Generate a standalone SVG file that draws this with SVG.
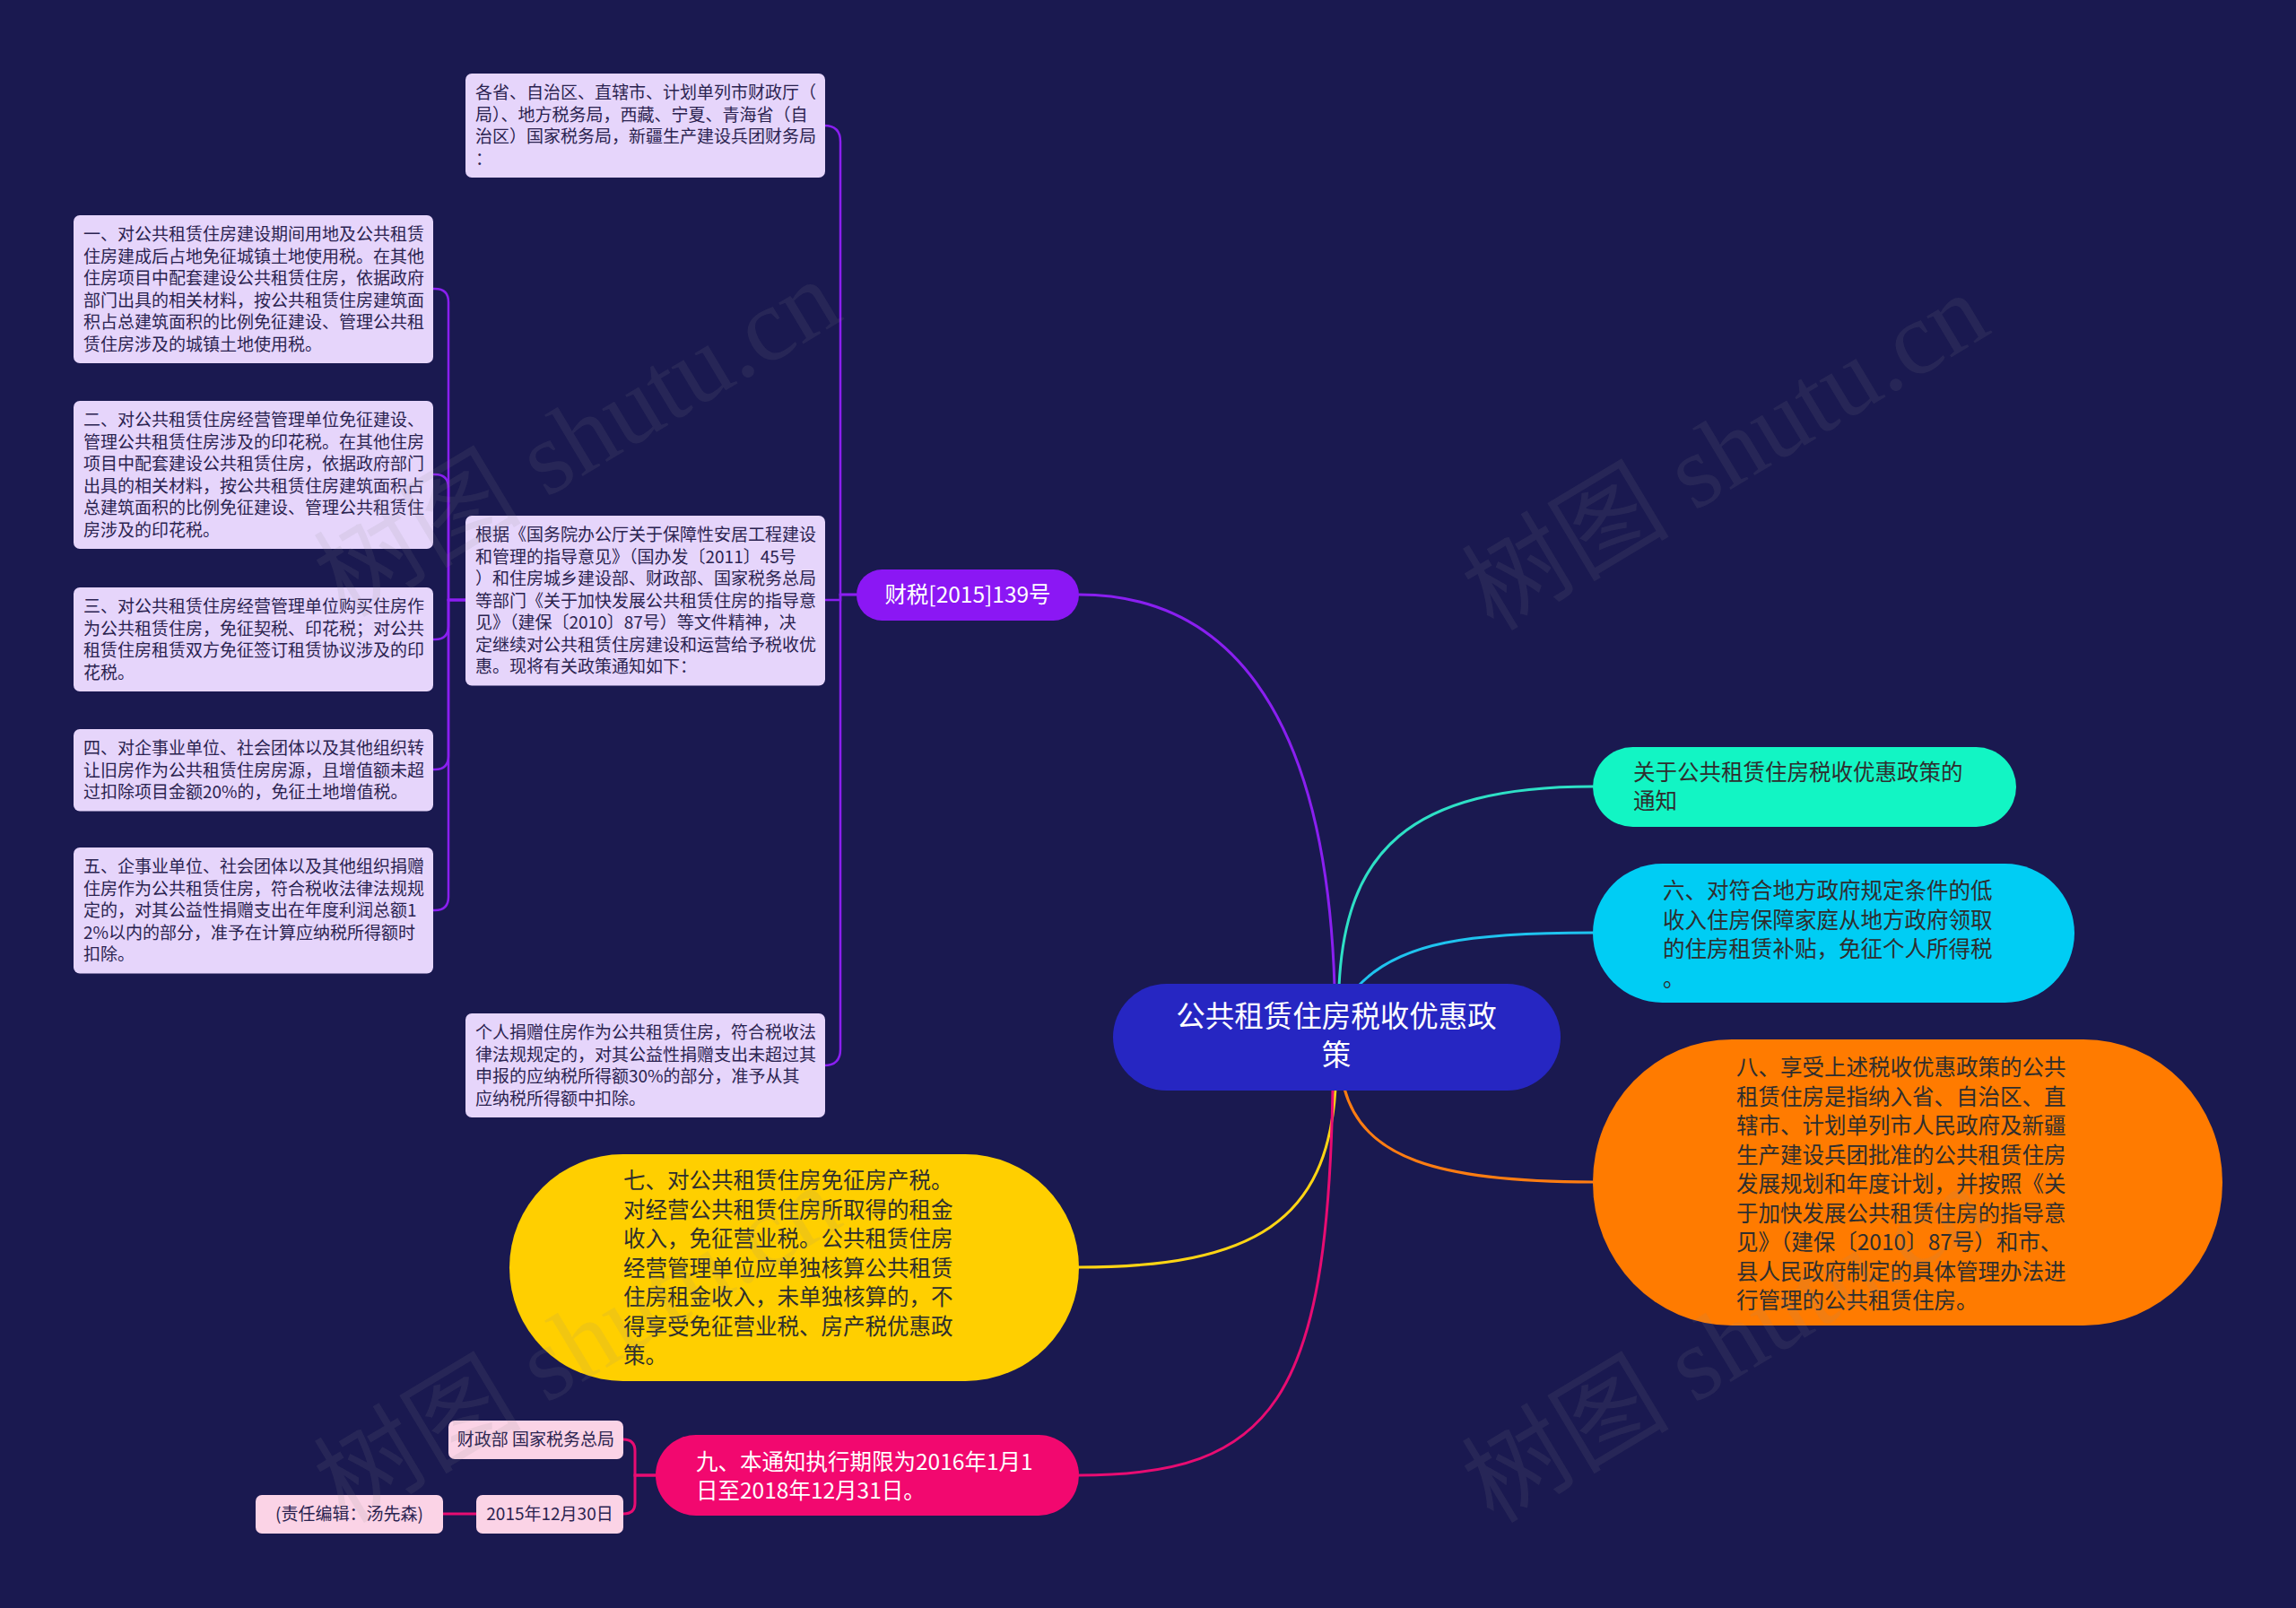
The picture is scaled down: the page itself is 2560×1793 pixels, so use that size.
<svg xmlns="http://www.w3.org/2000/svg" width="2560" height="1793" viewBox="0 0 2560 1793">
<style>
.bg{fill:#1a1950}
.bx{fill:#e6d5fb}
.pb{fill:#fbd3e6}
.t{font-family:"Noto Sans CJK SC","Noto Sans",sans-serif}
.s{font-size:19px;fill:#2b2350}
.m{font-size:24.5px;fill:#2e2e2e}
.w{fill:#ffffff}
.c{fill:none;stroke-width:3;stroke-linecap:round}
.b{fill:none;stroke-width:2.5;stroke-linecap:round}
.wm{font-family:"Liberation Serif","Noto Sans CJK SC",serif;font-size:116px;fill:#8a8a8a;fill-opacity:0.12}
</style>
<rect class="bg" x="0" y="0" width="2560" height="1793"/>
<g id="connectors">
<path class="c" stroke="#8a1ff0" d="M1488 1100 C1478 780 1360 663 1203 663"/>
<path class="c" stroke="#2ee0c6" d="M1493 1100 C1500 950 1570 877 1776 877"/>
<path class="c" stroke="#1fc3ef" d="M1514 1100 C1560 1050 1640 1040 1776 1040"/>
<path class="c" stroke="#ff7d12" d="M1499 1214 C1520 1290 1600 1318 1776 1318"/>
<path class="c" stroke="#ffd514" d="M1489 1214 C1480 1360 1400 1413 1203 1413"/>
<path class="c" stroke="#e80c72" d="M1486 1214 C1480 1560 1420 1645 1203 1645"/>
<path class="b" stroke="#8a1ff0" d="M955 663 H937 V158 Q937 140 919 140"/>
<path class="b" stroke="#8a1ff0" d="M955 663 H937 V669 H919"/>
<path class="b" stroke="#8a1ff0" d="M955 663 H937 V1170 Q937 1188 919 1188"/>
<path class="b" stroke="#8a1ff0" d="M519 669 H500 V337 Q500 322 485 322 H483"/>
<path class="b" stroke="#8a1ff0" d="M519 669 H500 V544 Q500 529 485 529 H483"/>
<path class="b" stroke="#8a1ff0" d="M519 669 H500 V698 Q500 713 485 713 H483"/>
<path class="b" stroke="#8a1ff0" d="M519 669 H500 V843 Q500 858 485 858 H483"/>
<path class="b" stroke="#8a1ff0" d="M519 669 H500 V1000 Q500 1015 485 1015 H483"/>
<path class="c" stroke="#e80c72" d="M731 1645 H708 V1618 Q708 1605 695 1605"/>
<path class="c" stroke="#e80c72" d="M731 1645 H708 V1676 Q708 1688 695 1688"/>
<path class="c" stroke="#e80c72" d="M531 1688 H494"/>
</g>
<g id="root">
<rect x="1241" y="1097" width="499" height="119" rx="59.5" fill="#2626c2"/>
<text class="t w" font-size="32.5" text-anchor="middle"><tspan x="1490" y="1145">公共租赁住房税收优惠政</tspan><tspan x="1490" y="1188">策</tspan></text>
</g>
<g id="n-caishui">
<rect x="955" y="635" width="248" height="57" rx="28.5" fill="#8b17f4"/>
<text class="t w" font-size="24.5" x="1079" y="672" text-anchor="middle">财税[2015]139号</text>
</g>
<g id="n-top">
<rect class="bx" x="519" y="82" width="401" height="116" rx="7"/>
<text class="t s"><tspan x="530" y="110">各省、自治区、直辖市、计划单列市财政厅（</tspan><tspan x="530" dy="24.5">局）、地方税务局，西藏、宁夏、青海省（自</tspan><tspan x="530" dy="24.5">治区）国家税务局，新疆生产建设兵团财务局</tspan><tspan x="530" dy="24.5">：</tspan></text>
</g>
<g id="n-basis">
<rect class="bx" x="519" y="575" width="401" height="189.5" rx="7"/>
<text class="t s"><tspan x="530" y="603">根据《国务院办公厅关于保障性安居工程建设</tspan><tspan x="530" dy="24.5">和管理的指导意见》（国办发〔2011〕45号</tspan><tspan x="530" dy="24.5">）和住房城乡建设部、财政部、国家税务总局</tspan><tspan x="530" dy="24.5">等部门《关于加快发展公共租赁住房的指导意</tspan><tspan x="530" dy="24.5">见》（建保〔2010〕87号）等文件精神，决</tspan><tspan x="530" dy="24.5">定继续对公共租赁住房建设和运营给予税收优</tspan><tspan x="530" dy="24.5">惠。现将有关政策通知如下：</tspan></text>
</g>
<g id="n-personal">
<rect class="bx" x="519" y="1130" width="401" height="116" rx="7"/>
<text class="t s"><tspan x="530" y="1158">个人捐赠住房作为公共租赁住房，符合税收法</tspan><tspan x="530" dy="24.5">律法规规定的，对其公益性捐赠支出未超过其</tspan><tspan x="530" dy="24.5">申报的应纳税所得额30%的部分，准予从其</tspan><tspan x="530" dy="24.5">应纳税所得额中扣除。</tspan></text>
</g>
<g id="n-1">
<rect class="bx" x="82" y="240" width="401" height="165" rx="7"/>
<text class="t s"><tspan x="93" y="268">一、对公共租赁住房建设期间用地及公共租赁</tspan><tspan x="93" dy="24.5">住房建成后占地免征城镇土地使用税。在其他</tspan><tspan x="93" dy="24.5">住房项目中配套建设公共租赁住房，依据政府</tspan><tspan x="93" dy="24.5">部门出具的相关材料，按公共租赁住房建筑面</tspan><tspan x="93" dy="24.5">积占总建筑面积的比例免征建设、管理公共租</tspan><tspan x="93" dy="24.5">赁住房涉及的城镇土地使用税。</tspan></text>
</g>
<g id="n-2">
<rect class="bx" x="82" y="447" width="401" height="165" rx="7"/>
<text class="t s"><tspan x="93" y="475">二、对公共租赁住房经营管理单位免征建设、</tspan><tspan x="93" dy="24.5">管理公共租赁住房涉及的印花税。在其他住房</tspan><tspan x="93" dy="24.5">项目中配套建设公共租赁住房，依据政府部门</tspan><tspan x="93" dy="24.5">出具的相关材料，按公共租赁住房建筑面积占</tspan><tspan x="93" dy="24.5">总建筑面积的比例免征建设、管理公共租赁住</tspan><tspan x="93" dy="24.5">房涉及的印花税。</tspan></text>
</g>
<g id="n-3">
<rect class="bx" x="82" y="655" width="401" height="116" rx="7"/>
<text class="t s"><tspan x="93" y="683">三、对公共租赁住房经营管理单位购买住房作</tspan><tspan x="93" dy="24.5">为公共租赁住房，免征契税、印花税；对公共</tspan><tspan x="93" dy="24.5">租赁住房租赁双方免征签订租赁协议涉及的印</tspan><tspan x="93" dy="24.5">花税。</tspan></text>
</g>
<g id="n-4">
<rect class="bx" x="82" y="813" width="401" height="91.5" rx="7"/>
<text class="t s"><tspan x="93" y="841">四、对企事业单位、社会团体以及其他组织转</tspan><tspan x="93" dy="24.5">让旧房作为公共租赁住房房源，且增值额未超</tspan><tspan x="93" dy="24.5">过扣除项目金额20%的，免征土地增值税。</tspan></text>
</g>
<g id="n-5">
<rect class="bx" x="82" y="945" width="401" height="140.5" rx="7"/>
<text class="t s"><tspan x="93" y="973">五、企事业单位、社会团体以及其他组织捐赠</tspan><tspan x="93" dy="24.5">住房作为公共租赁住房，符合税收法律法规规</tspan><tspan x="93" dy="24.5">定的，对其公益性捐赠支出在年度利润总额1</tspan><tspan x="93" dy="24.5">2%以内的部分，准予在计算应纳税所得额时</tspan><tspan x="93" dy="24.5">扣除。</tspan></text>
</g>
<g id="n-notice">
<rect x="1776" y="833" width="472" height="89" rx="44.5" fill="#12f5c4"/>
<text class="t m"><tspan x="1821" y="870">关于公共租赁住房税收优惠政策的</tspan><tspan x="1821" dy="32">通知</tspan></text>
</g>
<g id="n-6">
<rect x="1776" y="963" width="537" height="155" rx="77.5" fill="#00cdf4"/>
<text class="t m"><tspan x="1854" y="1002">六、对符合地方政府规定条件的低</tspan><tspan x="1854" dy="32.5">收入住房保障家庭从地方政府领取</tspan><tspan x="1854" dy="32.5">的住房租赁补贴，免征个人所得税</tspan><tspan x="1854" dy="32.5">。</tspan></text>
</g>
<g id="n-8">
<rect x="1776" y="1159" width="702" height="319" rx="155" ry="159" fill="#ff7b00"/>
<text class="t m"><tspan x="1936" y="1199">八、享受上述税收优惠政策的公共</tspan><tspan x="1936" dy="32.5">租赁住房是指纳入省、自治区、直</tspan><tspan x="1936" dy="32.5">辖市、计划单列市人民政府及新疆</tspan><tspan x="1936" dy="32.5">生产建设兵团批准的公共租赁住房</tspan><tspan x="1936" dy="32.5">发展规划和年度计划，并按照《关</tspan><tspan x="1936" dy="32.5">于加快发展公共租赁住房的指导意</tspan><tspan x="1936" dy="32.5">见》（建保〔2010〕87号）和市、</tspan><tspan x="1936" dy="32.5">县人民政府制定的具体管理办法进</tspan><tspan x="1936" dy="32.5">行管理的公共租赁住房。</tspan></text>
</g>
<g id="n-7">
<rect x="568" y="1287" width="635" height="253" rx="126.5" fill="#ffcf00"/>
<text class="t m"><tspan x="695" y="1325">七、对公共租赁住房免征房产税。</tspan><tspan x="695" dy="32.5">对经营公共租赁住房所取得的租金</tspan><tspan x="695" dy="32.5">收入，免征营业税。公共租赁住房</tspan><tspan x="695" dy="32.5">经营管理单位应单独核算公共租赁</tspan><tspan x="695" dy="32.5">住房租金收入，未单独核算的，不</tspan><tspan x="695" dy="32.5">得享受免征营业税、房产税优惠政</tspan><tspan x="695" dy="32.5">策。</tspan></text>
</g>
<g id="n-9">
<rect x="731" y="1600" width="472" height="90" rx="45" fill="#f2086f"/>
<text class="t w" font-size="24.5"><tspan x="776" y="1639">九、本通知执行期限为2016年1月1</tspan><tspan x="776" dy="32">日至2018年12月31日。</tspan></text>
</g>
<g id="n-dept">
<rect class="pb" x="500" y="1584" width="195" height="43" rx="7"/>
<text class="t s" x="597.5" y="1612" text-anchor="middle">财政部 国家税务总局</text>
</g>
<g id="n-date">
<rect class="pb" x="531" y="1667" width="164" height="43" rx="7"/>
<text class="t s" x="613" y="1695" text-anchor="middle">2015年12月30日</text>
</g>
<g id="n-editor">
<rect class="pb" x="285" y="1667" width="209" height="43" rx="7"/>
<text class="t s" x="389.5" y="1695" text-anchor="middle">(责任编辑：汤先森)</text>
</g>
<g id="watermarks">
<text class="wm" transform="translate(385 690) rotate(-31)">树图 shutu.cn</text>
<text class="wm" transform="translate(1665 705) rotate(-31)">树图 shutu.cn</text>
<text class="wm" transform="translate(385 1700) rotate(-31)">树图 shutu.cn</text>
<text class="wm" transform="translate(1665 1700) rotate(-31)">树图 shutu.cn</text>
</g>
</svg>
